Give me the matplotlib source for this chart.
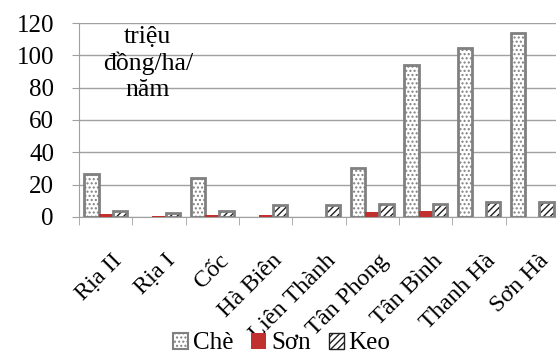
import matplotlib
matplotlib.use("Agg")
import matplotlib.pyplot as plt
import numpy as np
from matplotlib.patches import Patch
from matplotlib.transforms import ScaledTranslation

categories = ["Rịa II", "Rịa I", "Cốc", "Hà Biên", "Liên Thành", "Tân Phong", "Tân Bình", "Thanh Hà", "Sơn Hà"]
che = [26.5, 0, 24.3, 0, 0, 30.5, 94, 104.4, 114]
son = [2, 0.7, 1.2, 1.5, 0, 3, 4, 0, 0]
keo = [3.5, 2.7, 3.5, 7.5, 7.5, 8.3, 8.3, 9, 9]
yticks = [0, 20, 40, 60, 80, 100, 120]
unit_label = "triệu\nđồng/ha/\nnăm"

plt.rcParams['font.family'] = ['Liberation Serif', 'DejaVu Serif']
plt.rcParams['hatch.linewidth'] = 1.0

fig = plt.figure(figsize=(5.56, 3.54), dpi=100)
ax = fig.add_axes([79/556, 1-217/354, 480/556, (217-23)/354])

x = np.arange(len(categories))
w = 0.265
gray = '#808080'
red = '#c0302f'

plt.rcParams['hatch.color'] = '#909090'
che_lw = [2 if v > 0 else 0 for v in che]
ax.bar(x - w, che, w, color='white', edgecolor=gray, linewidth=che_lw, hatch='....', zorder=3)
ax.bar(x, son, w, color=red, edgecolor='none', linewidth=0, zorder=3)
ax.bar(x + w, keo, w, color='white', edgecolor='#202020', linewidth=0, hatch='/////', zorder=3)
ax.bar(x + w, keo, w, fill=False, edgecolor=gray, linewidth=2, zorder=4)

ax.set_xlim(-0.5, len(categories) - 0.5)
ax.set_ylim(0, 120)
ax.set_yticks(yticks)
ax.set_yticklabels([str(v) for v in yticks])
ax.grid(axis='y', color='#a0a0a0', linewidth=1, zorder=0)
ax.set_axisbelow(True)
for s in ['top', 'right']:
    ax.spines[s].set_visible(False)
ax.spines['bottom'].set_color('#a0a0a0')
ax.spines['left'].set_color('#a0a0a0')
ax.tick_params(axis='y', length=5, color='#a0a0a0', pad=13, labelsize=18)
ax.set_xticks(np.arange(len(categories) + 1) - 0.5, minor=True)
ax.set_xticks(x)
ax.set_xticklabels(categories, rotation=45, ha='right', va='top', rotation_mode='anchor', fontsize=17.5)
ax.tick_params(axis='x', which='major', length=0, pad=24)
ax.tick_params(axis='x', which='minor', length=6, color='#a0a0a0')
shift = ScaledTranslation(6/100, 0, fig.dpi_scale_trans)
for lab in ax.get_xticklabels():
    lab.set_transform(lab.get_transform() + shift)

ax.text(0.79, 118, unit_label, ha='center', va='top', fontsize=18.5, linespacing=1.2)

handles = [Patch(facecolor='white', edgecolor=gray, hatch='....', linewidth=1.5),
           Patch(facecolor=red, edgecolor='none'),
           Patch(facecolor='white', edgecolor='#202020', hatch='/////', linewidth=1)]
fig.legend(handles, ["Chè", "Sơn", "Keo"], loc='center', bbox_to_anchor=(0.507, 0.03), ncol=3,
           frameon=False, fontsize=18, handlelength=0.6, handleheight=0.6, handletextpad=0.2,
           columnspacing=0.7, borderpad=0)

fig.savefig("out.png", dpi=100)
